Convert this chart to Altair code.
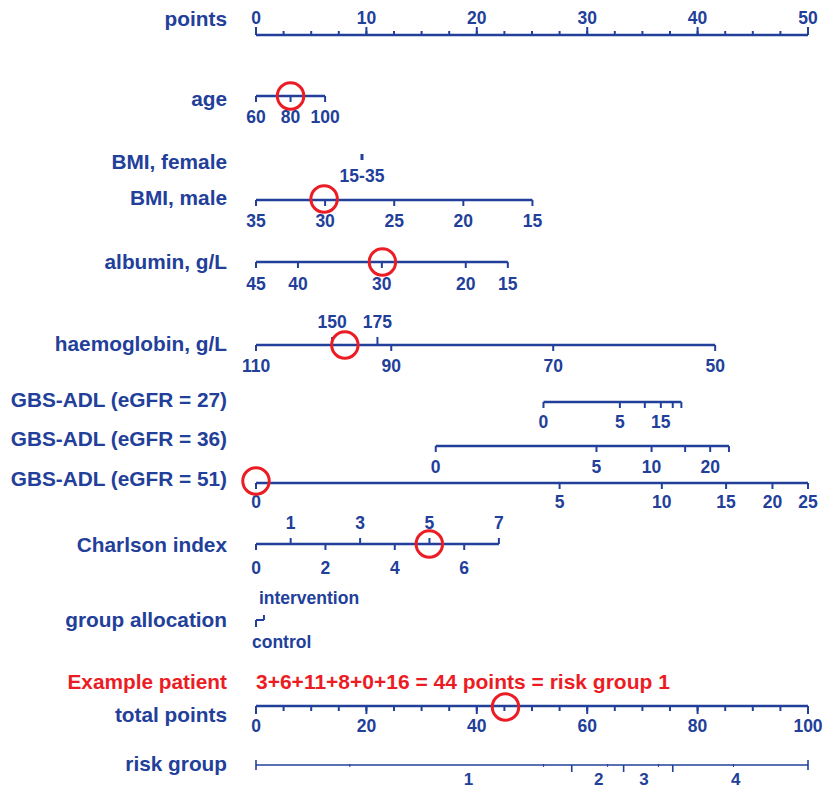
import altair as alt
import pandas as pd

BLUE = "#22409a"
RED = "#ec1c24"
FONT = "Liberation Sans"

# ---------------- data (value -> points) ----------------
points_major = [0, 10, 20, 30, 40, 50]
points_minor = [i * 2.5 for i in range(21)]

age_values = [60, 80, 100]
age_points = [0, 3.13, 6.26]

bmi_female_labels = ["15-35"]
bmi_female_points = [9.6]

bmi_male_values = [35, 30, 25, 20, 15]
bmi_male_points = [0, 6.26, 12.52, 18.78, 25.04]

albumin_values = [45, 40, 30, 20, 15]
albumin_points = [0, 3.80, 11.40, 19.00, 22.81]

hb_low_values = [110, 90, 70, 50]
hb_low_points = [0, 12.25, 26.92, 41.59]
hb_high_values = [150, 175]
hb_high_points = [6.89, 11.0]

gbs_values = [0, 5, 10, 15, 20, 25]
gbs27_points = [26.04, 32.96, 35.22, 36.67, 37.75, 38.53]
gbs27_shown = ["0", "5", "", "15", "", ""]
gbs36_points = [16.28, 30.84, 35.83, 38.87, 41.14, 42.84]
gbs36_shown = ["0", "5", "10", "", "20", ""]
gbs51_points = [0, 27.50, 36.76, 42.58, 46.78, 50.0]
gbs51_shown = ["0", "5", "10", "15", "20", "25"]

charlson_values = [0, 1, 2, 3, 4, 5, 6, 7]
charlson_points = [0, 3.14, 6.29, 9.43, 12.57, 15.71, 18.86, 22.0]

group_labels = ["control", "intervention"]
group_points = [0, 0.72]

total_major = [0, 20, 40, 60, 80, 100]
total_minor = list(range(0, 101, 5))

risk_bounds = [57.2, 66.6, 75.5]          # total points
risk_joints = [17.0, 52.1, 63.7, 72.9, 86.5]
risk_labels = ["1", "2", "3", "4"]
risk_label_at = [38.5, 62.1, 70.3, 86.9]  # total points

example_label = "Example patient"
example_text = "3+6+11+8+0+16 = 44 points = risk group 1"
example_points = {"age": 3.13, "bmim": 6.17, "alb": 11.45, "hb": 8.05,
                  "g51": 0.0, "charl": 15.7, "total": 45.2}

row_names = ["points", "age", "BMI, female", "BMI, male", "albumin, g/L",
             "haemoglobin, g/L", "GBS-ADL (eGFR = 27)", "GBS-ADL (eGFR = 36)",
             "GBS-ADL (eGFR = 51)", "Charlson index", "group allocation",
             "total points", "risk group"]

# ---------------- layout (page pixels, vertical) ----------------
W, H = 815, 781
Y = {"points": 35, "age": 96, "bmif": 157, "bmim": 200, "alb": 262, "hb": 345,
     "g27": 402, "g36": 446, "g51": 483, "charl": 544, "group": 620,
     "example": 683, "total": 706, "risk": 765}
ROW_LABEL_Y = [20, 100, 163, 199, 263, 345, 401, 440, 480, 546, 621, 716, 765]
ORIGIN = 248            # plot-x pixel of 0 points
K = 552 / 50.0          # pixels per point
X0 = -ORIGIN / K
X1 = (W - ORIGIN) / K
TS = 17.5               # tick-label font size

lines, ticks, tlabels = [], [], []


def line(a, b, y, w=2.6):
    lines.append({"x": a, "x2": b, "y": y, "w": w})


def tick(x, y, length, w=2.0):
    ticks.append({"x": x, "y": y, "y2": y + length, "w": w})


def lab(x, y, t, s=TS):
    if t != "":
        tlabels.append({"x": x, "y": y, "text": str(t), "size": s})


# points axis
line(0, 50, Y["points"])
for p in points_minor:
    tick(p, Y["points"], -4)
for p in points_major:
    tick(p, Y["points"], -8)
    lab(p, 18.7, p)

# age
line(age_points[0], age_points[-1], Y["age"])
for v, p in zip(age_values, age_points):
    tick(p, Y["age"], 6)
    lab(p, Y["age"] + 22, v)

# BMI female
for t, p in zip(bmi_female_labels, bmi_female_points):
    tick(p, Y["bmif"] - 3, 6, 3)
    lab(p, 177, t)

# BMI male
line(bmi_male_points[0], bmi_male_points[-1], Y["bmim"])
for v, p in zip(bmi_male_values, bmi_male_points):
    tick(p, Y["bmim"], 6)
    lab(p, Y["bmim"] + 22, v)

# albumin
line(albumin_points[0], albumin_points[-1], Y["alb"])
for v, p in zip(albumin_values, albumin_points):
    tick(p, Y["alb"], 6)
    lab(p, Y["alb"] + 23, v)

# haemoglobin
line(hb_low_points[0], hb_low_points[-1], Y["hb"])
for v, p in zip(hb_low_values, hb_low_points):
    tick(p, Y["hb"], 6)
    lab(p, Y["hb"] + 22, v)
for v, p in zip(hb_high_values, hb_high_points):
    tick(p, Y["hb"], -8)
    lab(p, Y["hb"] - 22, v)

# GBS-ADL
for key, pts, shown, off in [("g27", gbs27_points, gbs27_shown, 21),
                             ("g36", gbs36_points, gbs36_shown, 22),
                             ("g51", gbs51_points, gbs51_shown, 20)]:
    line(pts[0], pts[-1], Y[key])
    for p, t in zip(pts, shown):
        tick(p, Y[key], 6)
        lab(p, Y[key] + off, t)

# Charlson
line(charlson_points[0], charlson_points[-1], Y["charl"])
for v, p in zip(charlson_values, charlson_points):
    if v % 2:
        tick(p, Y["charl"], -6)
        lab(p, Y["charl"] - 20, v)
    else:
        tick(p, Y["charl"], 6)
        lab(p, Y["charl"] + 25, v)

# group allocation
line(group_points[0], group_points[1], Y["group"], 2.0)
tick(group_points[0], Y["group"], 7)
tick(group_points[1], Y["group"], -5)

# total points
line(0, 50, Y["total"])
for t in total_minor:
    tick(t / 2, Y["total"], 5)
for t in total_major:
    tick(t / 2, Y["total"], 8)
    lab(t / 2, Y["total"] + 21, t)

# risk group
line(0, 50, Y["risk"], 1.6)
tick(0, Y["risk"] - 5, 10, 1.6)
tick(50, Y["risk"] - 5, 10, 1.6)
for t in risk_bounds:
    tick(t / 2, Y["risk"], 7, 1.6)
for t in risk_joints:
    tick(t / 2, Y["risk"] - 1, 3, 1.0)
for t, at in zip(risk_labels, risk_label_at):
    lab(at / 2, Y["risk"] + 15, t, 17)

# row labels (right aligned)
LX = -29 / K
row_df = pd.DataFrame({"x": LX, "y": ROW_LABEL_Y, "text": row_names,
                       "color": BLUE})
row_df = pd.concat([row_df, pd.DataFrame([{"x": LX, "y": Y["example"],
                                           "text": example_label, "color": RED}])])

# left aligned labels
left_df = pd.DataFrame([
    {"x": group_points[1] - 5 / K, "y": 599, "text": group_labels[1], "color": BLUE, "size": TS},
    {"x": group_points[0] - 4 / K, "y": 643, "text": group_labels[0], "color": BLUE, "size": TS},
    {"x": 0.0, "y": Y["example"], "text": example_text, "color": RED, "size": 21},
])

circ_df = pd.DataFrame([
    {"x": example_points["age"], "y": Y["age"]},
    {"x": example_points["bmim"], "y": Y["bmim"] - 1},
    {"x": example_points["alb"], "y": Y["alb"]},
    {"x": example_points["hb"], "y": Y["hb"]},
    {"x": example_points["g51"], "y": Y["g51"] - 2},
    {"x": example_points["charl"], "y": Y["charl"]},
    {"x": example_points["total"] / 2, "y": Y["total"] + 1},
])

XS = alt.Scale(domain=[X0, X1], nice=False, zero=False)
YS = alt.Scale(domain=[8, 8 + H], nice=False, zero=False, reverse=True)

line_layer = alt.Chart(pd.DataFrame(lines)).mark_rule(color=BLUE).encode(
    x=alt.X("x:Q", scale=XS, axis=None), x2="x2:Q",
    y=alt.Y("y:Q", scale=YS, axis=None),
    strokeWidth=alt.StrokeWidth("w:Q", scale=None))

tick_layer = alt.Chart(pd.DataFrame(ticks)).mark_rule(color=BLUE).encode(
    x=alt.X("x:Q", scale=XS, axis=None),
    y=alt.Y("y:Q", scale=YS, axis=None), y2="y2:Q",
    strokeWidth=alt.StrokeWidth("w:Q", scale=None))

tlab_layer = alt.Chart(pd.DataFrame(tlabels)).mark_text(
    font=FONT, fontWeight="bold", color=BLUE, align="center", baseline="middle").encode(
    x=alt.X("x:Q", scale=XS, axis=None),
    y=alt.Y("y:Q", scale=YS, axis=None),
    text="text:N", size=alt.Size("size:Q", scale=None))

row_layer = alt.Chart(row_df).mark_text(
    font=FONT, fontWeight="bold", fontSize=20.8, align="right", baseline="middle").encode(
    x=alt.X("x:Q", scale=XS, axis=None),
    y=alt.Y("y:Q", scale=YS, axis=None),
    text="text:N", color=alt.Color("color:N", scale=None))

left_layer = alt.Chart(left_df).mark_text(
    font=FONT, fontWeight="bold", align="left", baseline="middle").encode(
    x=alt.X("x:Q", scale=XS, axis=None),
    y=alt.Y("y:Q", scale=YS, axis=None),
    text="text:N", color=alt.Color("color:N", scale=None),
    size=alt.Size("size:Q", scale=None))

circ_layer = alt.Chart(circ_df).mark_point(
    shape="circle", filled=False, color=RED, strokeWidth=3, size=700, opacity=1).encode(
    x=alt.X("x:Q", scale=XS, axis=None),
    y=alt.Y("y:Q", scale=YS, axis=None))

chart = alt.layer(line_layer, tick_layer, tlab_layer, row_layer, left_layer, circ_layer).properties(
    width=W, height=H, padding=0,
    autosize=alt.AutoSizeParams(type="none"),
    background="white",
).configure_view(stroke=None)

chart.save("out.html", embed_options={"renderer": "svg", "actions": False})
